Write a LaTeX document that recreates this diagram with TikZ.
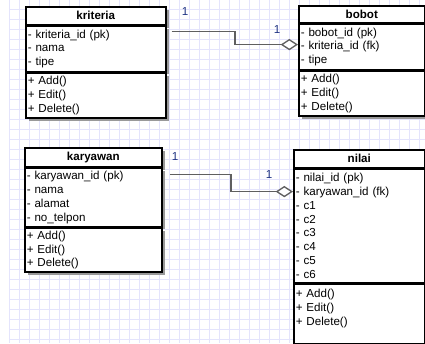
\documentclass[tikz,border=0pt]{standalone}
\usepackage{fontspec}
\setmainfont{Liberation Sans}
\usetikzlibrary{arrows.meta,positioning,calc,shadows}
\newdimen\px \px=0.75pt
\definecolor{gridclr}{RGB}{228,228,252}
\definecolor{multclr}{RGB}{30,50,130}
\definecolor{connclr}{RGB}{95,95,95}
\tikzset{
  umlpart/.style={rectangle,draw=black,fill=white,line width=1.2pt,anchor=north west,
    align=left,text width={#1*0.75pt-3pt},font=\fontsize{8.7}{10.3}\selectfont,
    inner xsep=1.5pt,inner ysep=0pt,
    drop shadow={shadow xshift=2.2pt,shadow yshift=-2.2pt,fill=black!40,opacity=1}},
  umlhead/.style={umlpart=#1,align=center,font=\fontsize{8.7}{10.3}\selectfont\bfseries},
  conn/.style={draw=connclr,line width=1pt,-{Diamond[open,fill=white,length=13pt,width=8.5pt]}},
  mult/.style={font=\fontsize{8.7}{10.3}\selectfont,text=multclr,inner sep=0pt},
  gridline/.style={draw=gridclr,line width=0.45pt},
}

\begin{document}
\begin{tikzpicture}[x=0.75pt,y=-0.75pt]
  \useasboundingbox[fill=white] (0,0) rectangle (425,343);
  % background grid
  \foreach \gx in {9,19,...,419} \draw[gridline] (\gx,0) -- (\gx,343);
  \foreach \gy in {9,19,...,339} \draw[gridline] (9,\gy) -- (425,\gy);

  % kriteria
  \node[umlhead=140, minimum height=18\px] (kriteriaH) at (25,6) {kriteria};
  \node[umlpart=140, minimum height=45\px] (kriteriaA) at (kriteriaH.south west)
    {- kriteria\_id (pk)\\- nama\\- tipe};
  \node[umlpart=140, minimum height=45\px] (kriteriaM) at (kriteriaA.south west)
    {+ Add()\\+ Edit()\\+ Delete()};

  % bobot
  \node[umlhead=126, minimum height=17\px] (bobotH) at (298,5) {bobot};
  \node[umlpart=126, minimum height=45\px] (bobotA) at (bobotH.south west)
    {- bobot\_id (pk)\\- kriteria\_id (fk)\\- tipe};
  \node[umlpart=126, minimum height=45\px] (bobotM) at (bobotA.south west)
    {+ Add()\\+ Edit()\\+ Delete()};

  % karyawan
  \node[umlhead=137, minimum height=19\px] (karyawanH) at (24,147) {karyawan};
  \node[umlpart=137, minimum height=58\px] (karyawanA) at (karyawanH.south west)
    {- karyawan\_id (pk)\\- nama\\- alamat\\- no\_telpon};
  \node[umlpart=137, minimum height=44\px] (karyawanM) at (karyawanA.south west)
    {+ Add()\\+ Edit()\\+ Delete()};

  % nilai
  \node[umlhead=131, minimum height=18\px] (nilaiH) at (293,149) {nilai};
  \node[umlpart=131, minimum height=113\px] (nilaiA) at (nilaiH.south west)
    {- nilai\_id (pk)\\- karyawan\_id (fk)\\- c1\\- c2\\- c3\\- c4\\- c5\\- c6};
  \node[umlpart=131, minimum height=60\px] (nilaiM) at (nilaiA.south west)
    {+ Add()\\+ Edit()\\+ Delete()\\ \mbox{}};

  % relations
  \draw[conn] ($(kriteriaA.north east)+(5,6)$) -| ($(bobotA.north west)+(-63,21)$)
    -- ($(bobotA.north west)+(0,21)$);
  \draw[conn] ($(karyawanA.north east)+(7,7)$) -| ($(nilaiA.north west)+(-62,23)$)
    -- ($(nilaiA.north west)+(0,23)$);

  \node[mult] (kriteriaOne) at (185,12) {1};
  \node[mult] (bobotOne) at (277,30) {1};
  \node[mult] (karyawanOne) at (175,157) {1};
  \node[mult] (nilaiOne) at (269,175) {1};
\end{tikzpicture}
\end{document}
